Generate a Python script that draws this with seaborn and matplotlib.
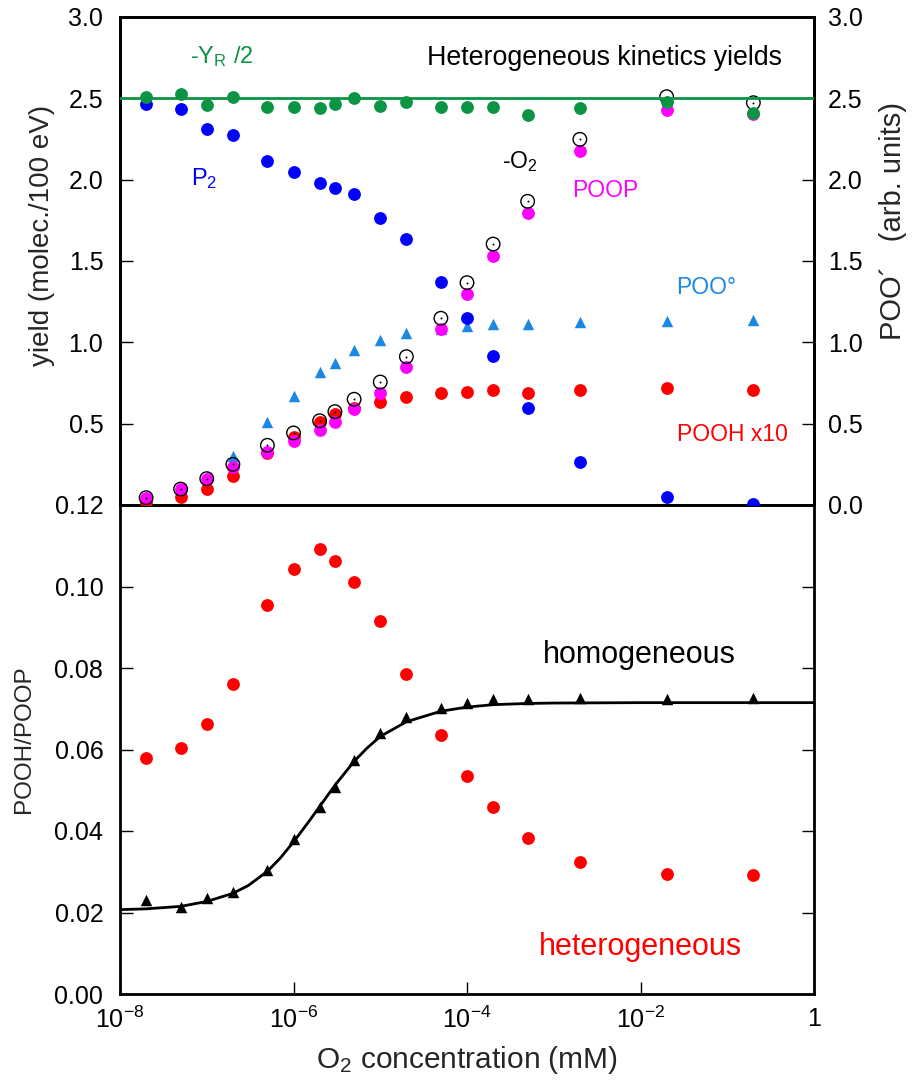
import numpy as np
import pandas as pd
import matplotlib
matplotlib.use("Agg")
import matplotlib.pyplot as plt
from matplotlib.ticker import NullLocator, FixedLocator
import seaborn as sns

# ---------------------------------------------------------------- data
o2_mM = [2e-8, 5e-8, 1e-7, 2e-7, 5e-7, 1e-6, 2e-6, 3e-6, 5e-6, 1e-5,
         2e-5, 5e-5, 1e-4, 2e-4, 5e-4, 2e-3, 2e-2, 2e-1]

# yields (molec./100 eV)
neg_yr_half = [2.510, 2.525, 2.461, 2.510, 2.449, 2.445, 2.442, 2.463, 2.504,
               2.453, 2.476, 2.449, 2.449, 2.449, 2.398, 2.442, 2.479, 2.408]
p2 = [2.465, 2.432, 2.310, 2.275, 2.115, 2.045, 1.980, 1.950, 1.914, 1.762,
      1.633, 1.369, 1.148, 0.916, 0.598, 0.264, 0.047, 0.006]
poop = [0.041, 0.096, 0.158, 0.236, 0.328, 0.395, 0.461, 0.512, 0.588, 0.690,
        0.846, 1.080, 1.295, 1.531, 1.797, 2.176, 2.428, 2.402]
neg_o2 = [0.045, 0.098, 0.162, 0.250, 0.367, 0.443, 0.518, 0.574, 0.650, 0.756,
          0.912, 1.148, 1.367, 1.604, 1.867, 2.248, 2.510, 2.473]
pooh_x10 = [0.020, 0.051, 0.100, 0.178, 0.318, 0.420, 0.512, 0.557, 0.594,
            0.633, 0.666, 0.687, 0.693, 0.707, 0.687, 0.707, 0.717, 0.707]
# peroxyl radical (arb. units)
poo_radical = [0.040, 0.095, 0.175, 0.300, 0.508, 0.672, 0.816, 0.875, 0.953,
               1.014, 1.055, 1.080, 1.100, 1.113, 1.113, 1.123, 1.131, 1.137]
yr_half_level = 2.5

# POOH/POOP ratio
ratio_het = [0.0578, 0.0603, 0.0662, 0.0761, 0.0955, 0.1043, 0.1091, 0.1063,
             0.1010, 0.0916, 0.0785, 0.0635, 0.0535, 0.0460, 0.0383, 0.0325,
             0.0295, 0.0293]
ratio_hom = [0.0231, 0.0214, 0.0235, 0.0251, 0.0304, 0.0380, 0.0460, 0.0508,
             0.0574, 0.0640, 0.0680, 0.0702, 0.0713, 0.0723, 0.0723, 0.0727,
             0.0723, 0.0727]

# homogeneous-kinetics model curve
model_x = [1e-8, 2e-8, 5e-8, 1e-7, 2e-7, 3e-7, 5e-7, 7e-7, 1e-6, 1.5e-6, 2e-6,
           3e-6, 5e-6, 7e-6, 1e-5, 2e-5, 5e-5, 1e-4, 2e-4, 5e-4, 1e-3, 1e-2,
           1e-1, 1.0]
model_y = [0.0207, 0.0209, 0.0215, 0.0227, 0.0247, 0.0266, 0.0301, 0.0333,
           0.0373, 0.0423, 0.0460, 0.0512, 0.0571, 0.0603, 0.0632, 0.0668,
           0.0694, 0.0704, 0.0710, 0.0713, 0.0714, 0.0715, 0.0715, 0.0715]

x_ticks = [1e-8, 1e-6, 1e-4, 1e-2, 1.0]
x_ticklabels = [r"$10^{-8}$", r"$10^{-6}$", r"$10^{-4}$", r"$10^{-2}$", "1"]
yield_ticks = [0.0, 0.5, 1.0, 1.5, 2.0, 2.5, 3.0]
ratio_ticks = [0.00, 0.02, 0.04, 0.06, 0.08, 0.10, 0.12]

df = pd.DataFrame({
    "o2": o2_mM, "yr": neg_yr_half, "p2": p2, "poop": poop, "o2c": neg_o2,
    "pooh": pooh_x10, "poo": poo_radical, "het": ratio_het, "hom": ratio_hom,
})
model = pd.DataFrame({"x": model_x, "y": model_y})

# ---------------------------------------------------------------- style
sns.set_theme(style="ticks")
plt.rcParams["font.family"] = ["Liberation Sans", "DejaVu Sans"]
plt.rcParams.update({
    "mathtext.fontset": "custom",
    "mathtext.rm": "Liberation Sans",
    "mathtext.it": "Liberation Sans:italic",
    "mathtext.bf": "Liberation Sans:bold",
    "axes.linewidth": 2.0,
    "axes.edgecolor": "black",
    "xtick.direction": "in",
    "ytick.direction": "in",
    "xtick.color": "black",
    "ytick.color": "black",
})

GREEN = "#0b9444"
BLUE = "#0000ff"
MAGENTA = "#ff00ff"
RED = "#ff0000"
SKY = "#1c88e6"

fig = plt.figure(figsize=(9.14, 10.82), dpi=100)
ax = fig.add_axes([120 / 914, 577 / 1082, 694 / 914, 488 / 1082])
axr = ax.twinx()
axb = fig.add_axes([120 / 914, 88 / 1082, 694 / 914, 489 / 1082])

for a in (ax, axr, axb):
    a.set_xscale("log")
    a.set_xlim(1e-8, 1.0)

# keep the right-axis markers underneath the left-axis ones
axr.set_zorder(0)
ax.set_zorder(1)
ax.patch.set_visible(False)

S_DOT = 85
S_TRI = 68

# ---------------------------------------------------------------- upper panel
sns.scatterplot(data=df, x="o2", y="poo", ax=axr, marker="^", s=S_TRI,
                color=SKY, linewidth=0, zorder=2)
sns.scatterplot(data=df, x="o2", y="pooh", ax=ax, s=S_DOT, color=RED,
                linewidth=0, zorder=3)
sns.scatterplot(data=df, x="o2", y="poop", ax=ax, s=S_DOT, color=MAGENTA,
                linewidth=0, zorder=4)
sns.scatterplot(data=df, x="o2", y="o2c", ax=ax, s=S_DOT + 10, color="black",
                facecolor="none", edgecolor="black", linewidth=1.0, zorder=5)
sns.scatterplot(data=df, x="o2", y="o2c", ax=ax, s=2, color="black",
                linewidth=0, zorder=5)
sns.scatterplot(data=df, x="o2", y="p2", ax=ax, s=S_DOT, color=BLUE,
                linewidth=0, zorder=6)
ax.axhline(yr_half_level, color=GREEN, lw=2.0, zorder=6)
sns.scatterplot(data=df, x="o2", y="yr", ax=ax, s=S_DOT, color=GREEN,
                linewidth=0, zorder=7)

ax.set_ylim(0, 3.0)
axr.set_ylim(0, 3.0)
ax.yaxis.set_major_locator(FixedLocator(yield_ticks))
ax.set_yticklabels([""] + [f"{v:.1f}" for v in yield_ticks[1:]])
axr.yaxis.set_major_locator(FixedLocator(yield_ticks))
axr.set_yticklabels([f"{v:.1f}" for v in yield_ticks])
for a in (ax, axr):
    a.xaxis.set_major_locator(NullLocator())
    a.xaxis.set_minor_locator(NullLocator())
    a.set_xlabel("")
ax.tick_params(axis="y", labelsize=18, length=9, width=1, pad=12,
               left=True, right=False)
axr.tick_params(axis="y", labelsize=18, length=9, width=1, pad=10,
                left=False, right=True, labelleft=False, labelright=True)

ax.set_ylabel("yield (molec./100 eV)", fontsize=20)
ax.yaxis.set_label_coords(-0.094, 0.553)
axr.set_ylabel("POO\u00b4   (arb. units)", fontsize=21, rotation=90)
axr.yaxis.set_label_coords(1.093, 0.582)

ax.text(0.101, 0.906, r"-Y$_{\mathregular{R}}$ /2", transform=ax.transAxes,
        color=GREEN, fontsize=17, va="baseline", ha="left")
ax.text(0.442, 0.902, "Heterogeneous kinetics yields", transform=ax.transAxes,
        color="black", fontsize=19.3, va="baseline", ha="left")
ax.text(0.102, 0.656, r"P$_{2}$", transform=ax.transAxes, color=BLUE,
        fontsize=17, va="baseline", ha="left")
ax.text(0.551, 0.690, r"-O$_{2}$", transform=ax.transAxes, color="black",
        fontsize=16.5, va="baseline", ha="left")
ax.text(0.652, 0.632, "POOP", transform=ax.transAxes, color=MAGENTA,
        fontsize=16.5, va="baseline", ha="left")
ax.text(0.802, 0.432, "POO\u00b0", transform=ax.transAxes, color=SKY,
        fontsize=16.5, va="baseline", ha="left")
ax.text(0.802, 0.132, "POOH x10", transform=ax.transAxes, color=RED,
        fontsize=16.5, va="baseline", ha="left")

# ---------------------------------------------------------------- lower panel
sns.lineplot(data=model, x="x", y="y", ax=axb, color="black", lw=2.0,
             sort=False, zorder=3)
sns.scatterplot(data=df, x="o2", y="hom", ax=axb, marker="^", s=S_TRI,
                color="black", linewidth=0, zorder=4)
sns.scatterplot(data=df, x="o2", y="het", ax=axb, s=S_DOT, color=RED,
                linewidth=0, zorder=4)

axb.set_ylim(0, 0.12)
axb.yaxis.set_major_locator(FixedLocator(ratio_ticks))
axb.set_yticklabels([f"{v:.2f}" for v in ratio_ticks])
axb.xaxis.set_major_locator(FixedLocator(x_ticks))
axb.xaxis.set_minor_locator(NullLocator())
axb.set_xticklabels(x_ticklabels)
axb.tick_params(axis="y", labelsize=18, length=9, width=1, pad=12,
                left=True, right=True)
axb.tick_params(axis="x", labelsize=18, length=9, width=1, pad=9,
                bottom=True, top=False)

axb.set_ylabel("POOH/POOP", fontsize=17.5)
axb.yaxis.set_label_coords(-0.1225, 0.521)
axb.set_xlabel(r"O$_{2}$ concentration (mM)", fontsize=21.5)
axb.xaxis.set_label_coords(0.5, -0.103)

axb.text(0.6095, 0.676, "homogeneous", transform=axb.transAxes,
         color="black", fontsize=22, va="baseline", ha="left")
axb.text(0.6037, 0.080, "heterogeneous", transform=axb.transAxes,
         color=RED, fontsize=22, va="baseline", ha="left")

for a in (ax, axr, axb):
    for sp in a.spines.values():
        sp.set_visible(True)
        sp.set_linewidth(2.0)
        sp.set_color("black")
    leg = a.get_legend()
    if leg is not None:
        leg.remove()

fig.savefig("out.png", dpi=100)
